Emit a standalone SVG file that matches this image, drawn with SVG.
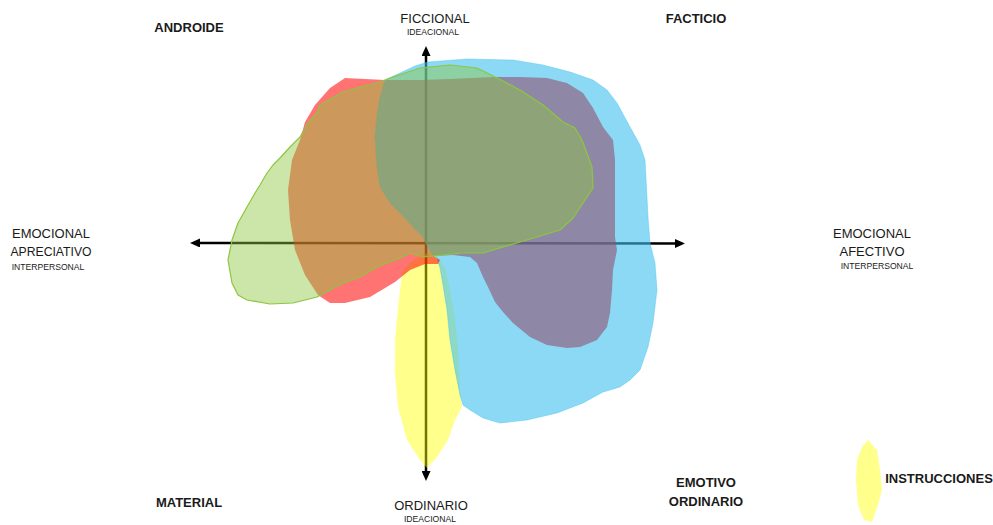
<svg xmlns="http://www.w3.org/2000/svg" width="993" height="525" viewBox="0 0 993 525">
<defs>
<marker id="ah" markerUnits="userSpaceOnUse" markerWidth="11" markerHeight="9" refX="4" refY="4.5" orient="auto-start-reverse">
<path d="M0,0 L10,4.5 L0,9 z" fill="#000"/>
</marker>
</defs>
<style>
.ax{stroke:#000;stroke-width:2.5;fill:none}
.lbl{font-family:"Liberation Sans",Arial,sans-serif;fill:#1a1a1a;text-anchor:middle}
.b{font-weight:bold}
.big{font-size:13px}
.sm{font-size:8.6px}
.shape{stroke-linejoin:round}
</style>
<rect width="993" height="525" fill="#fff"/>
<g id="connectors">
<line class="ax" x1="196" y1="243" x2="679" y2="243.5" marker-start="url(#ah)" marker-end="url(#ah)"/>
<line class="ax" x1="426" y1="475" x2="426" y2="52" marker-start="url(#ah)" marker-end="url(#ah)"/>
</g>
<g id="yellow">
<polygon class="shape" fill="#FFFF00" fill-opacity="0.45" points="430,254 423,254 410,263 402,273 398,307 395,340 395,373 398,407 407,440 420,460 427,468 437,457 448,440 455,420 462,407 460,390 459,370 458,345 455,320 450,290 445,268 437,256"/>
</g>
<g id="blue">
<polygon class="shape" fill="#3FC0F0" fill-opacity="0.6" stroke="#3FC0F0" stroke-opacity="0.5" stroke-width="0.8" points="428,62 467,59 513,60 543,65 570,72 593,80 607,90 617,103 630,127 640,145 645,160 648,217 650,243 655,263 657,290 653,323 648,347 640,370 630,380 620,387 603,392 583,403 557,413 527,420 500,423 483,418 470,410 463,405 460,395 455,370 450,340 447,310 443,285 440,268 437,258 433,256 428,247 423,237 413,227 400,213 390,203 380,187 377,167 375,137 377,115 380,97 385,80 400,73 415,66"/>
</g>
<g id="red">
<polygon class="shape" fill="#FF0000" fill-opacity="0.55" points="345,78 385,80 380,97 377,115 375,137 377,167 380,187 390,203 400,213 413,227 423,237 428,247 433,256 440,260 438,264 425,264 410,270 395,282 370,297 345,303 330,303 318,295 305,275 295,250 290,220 288,190 292,160 300,140 305,122 315,105 330,88"/>
</g>
<g id="purple">
<polygon class="shape" fill="#8F5271" fill-opacity="0.6" points="385,80 380,97 377,115 375,137 377,167 380,187 390,203 400,213 413,227 423,237 428,247 433,256 453,255 470,257 477,263 483,277 488,287 495,302 503,312 513,323 530,337 547,345 567,348 580,347 597,340 607,327 610,313 612,290 613,270 617,250 615,237 615,200 615,160 613,140 603,127 593,108 583,93 567,83 547,78 520,77 493,77 450,79 420,80"/>
</g>
<g id="green">
<polygon class="shape" fill="#8DC63F" fill-opacity="0.45" stroke="#8DC63F" stroke-width="1.2" points="390,78 405,73 420,68 450,65 477,68 497,78 520,90 543,105 563,122 575,128 582,140 592,167 593,188 585,200 573,218 560,230 520,242 483,253 462,253 423,257 410,253 400,258 377,267 360,277 343,283 317,297 293,303 270,304 247,300 238,295 232,283 228,260 232,240 238,223 247,207 255,193 260,185 267,173 273,165 280,158 290,147 300,137 308,123 317,113 320,105 343,92 360,87 380,82"/>
</g>
<g id="legend">
<polygon class="shape" fill="#FFFF00" fill-opacity="0.45" points="868,440 877,450 880,470 882,490 878,505 872,522 864,520 858,505 856,480 857,460 862,447"/>
<text class="lbl b big" x="939" y="483">INSTRUCCIONES</text>
</g>
<g id="label-ficcional">
<text class="lbl big" x="435" y="23">FICCIONAL</text>
<text class="lbl sm" x="433" y="35">IDEACIONAL</text>
</g>
<g id="label-ordinario">
<text class="lbl big" x="431" y="510">ORDINARIO</text>
<text class="lbl sm" x="430" y="522">IDEACIONAL</text>
</g>
<g id="label-apreciativo">
<text class="lbl big" x="51" y="238">EMOCIONAL</text>
<text class="lbl big" x="51" y="256" textLength="81" lengthAdjust="spacingAndGlyphs">APRECIATIVO</text>
<text class="lbl sm" x="48" y="270">INTERPERSONAL</text>
</g>
<g id="label-afectivo">
<text class="lbl big" x="872" y="238">EMOCIONAL</text>
<text class="lbl big" x="872" y="256">AFECTIVO</text>
<text class="lbl sm" x="877" y="269">INTERPERSONAL</text>
</g>
<g id="label-androide"><text class="lbl b big" x="189" y="32">ANDROIDE</text></g>
<g id="label-facticio"><text class="lbl b big" x="696" y="23">FACTICIO</text></g>
<g id="label-material"><text class="lbl b big" x="189" y="507">MATERIAL</text></g>
<g id="label-emotivo">
<text class="lbl b big" x="706" y="487">EMOTIVO</text>
<text class="lbl b big" x="706" y="506">ORDINARIO</text>
</g>
</svg>
